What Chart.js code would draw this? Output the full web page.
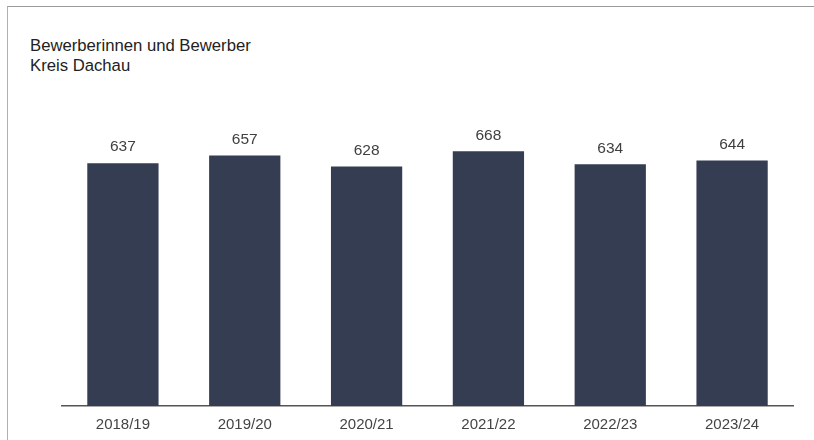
<!DOCTYPE html>
<html>
<head>
<meta charset="utf-8">
<script src="https://cdn.jsdelivr.net/npm/chart.js@4/dist/chart.umd.min.js"></script>
<style>
  html, body { margin: 0; padding: 0; background: #fff; }
  #wrap { position: relative; width: 814px; height: 440px; overflow: hidden; }
  #frame { position: absolute; left: 7px; top: 6px; width: 820px; height: 450px;
           border-top: 1.5px solid #9a9a9a; border-left: 1.5px solid #b0b0b0; }
  #title { position: absolute; left: 30px; top: 36px; font-family: "Liberation Sans", Arial, sans-serif;
           font-size: 16.7px; line-height: 20px; color: #222; }
  canvas { position: absolute; left: 0; top: 0; }
</style>
</head>
<body>
<div id="wrap">
  <div id="frame"></div>
  <div id="title">Bewerberinnen und Bewerber<br>Kreis Dachau</div>
  <canvas id="c" width="814" height="440"></canvas>
</div>
<script>
const categories = ["2018/19", "2019/20", "2020/21", "2021/22", "2022/23", "2023/24"];
const applicants = [637, 657, 628, 668, 634, 644];

const valueLabels = {
  id: 'valueLabels',
  afterDatasetsDraw(chart) {
    const ctx = chart.ctx;
    const meta = chart.getDatasetMeta(0);
    ctx.save();
    ctx.font = '15.5px "Liberation Sans", Arial, sans-serif';
    ctx.fillStyle = '#404040';
    ctx.textAlign = 'center';
    ctx.textBaseline = 'middle';
    meta.data.forEach((bar, i) => {
      ctx.fillText(String(chart.data.datasets[0].data[i]), bar.x, bar.y - 16);
    });
    ctx.restore();
  }
};

new Chart(document.getElementById('c'), {
  type: 'bar',
  data: {
    labels: categories,
    datasets: [{
      data: applicants,
      backgroundColor: '#353d52',
      borderWidth: 0,
      categoryPercentage: 1,
      barPercentage: 0.585
    }]
  },
  options: {
    responsive: false,
    animation: false,
    devicePixelRatio: 1,
    layout: { padding: { left: 62, right: 21, top: 101, bottom: -4 } },
    plugins: { legend: { display: false }, tooltip: { enabled: false }, title: { display: false } },
    scales: {
      y: { display: false, min: 0, max: 800 },
      x: {
        grid: { display: false, drawTicks: false },
        border: { display: true, color: '#555', width: 1.5 },
        ticks: { color: '#444', padding: 10, font: { family: '"Liberation Sans", Arial, sans-serif', size: 15 } }
      }
    }
  },
  plugins: [valueLabels]
});
</script>
</body>
</html>
